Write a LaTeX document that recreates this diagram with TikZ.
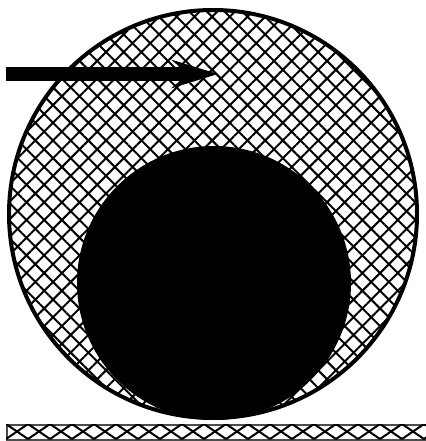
\documentclass[tikz,border=0pt]{standalone}
\usetikzlibrary{arrows.meta,patterns.meta}

\begin{document}
\begin{tikzpicture}[x=1pt,y=-1pt,
  ring/.style={draw,line width=4pt,pattern={Hatch[angle=45,distance=12.5pt,line width=2pt]}},
  ball/.style={fill=black},
  push/.style={line width=14pt,-{Stealth[length=46pt,width=28pt,inset=16pt]}},
  floor/.style={draw=gray!60!black,line width=1.6pt},
  rung/.style={line width=2pt},
]
\useasboundingbox (0,0) rectangle (425,441);
% ---------- hoop and ball ----------
\node[ring,circle,minimum size=408pt,inner sep=0pt] (hoop) at (213,214) {};
\node[ball,circle,minimum size=274pt,inner sep=0pt] (core) at (214,283) {};
% ---------- push ----------
\coordinate (tail) at (6,74);
\coordinate (tip) at (218,74);
\draw[push] (tail) -- (tip);
% ---------- ground strip ----------
\node[floor,rectangle,minimum width=430pt,minimum height=15pt,inner sep=0pt,anchor=north west] (ground) at (6,424) {};
\begin{scope}
  \clip (ground.north west) rectangle (ground.south east);
  \foreach \k in {0,...,19} {
    \draw[rung] (6+22*\k,424) -- (28+22*\k,439);
    \draw[rung] (28+22*\k,424) -- (6+22*\k,439);
  }
\end{scope}
\end{tikzpicture}
\end{document}
